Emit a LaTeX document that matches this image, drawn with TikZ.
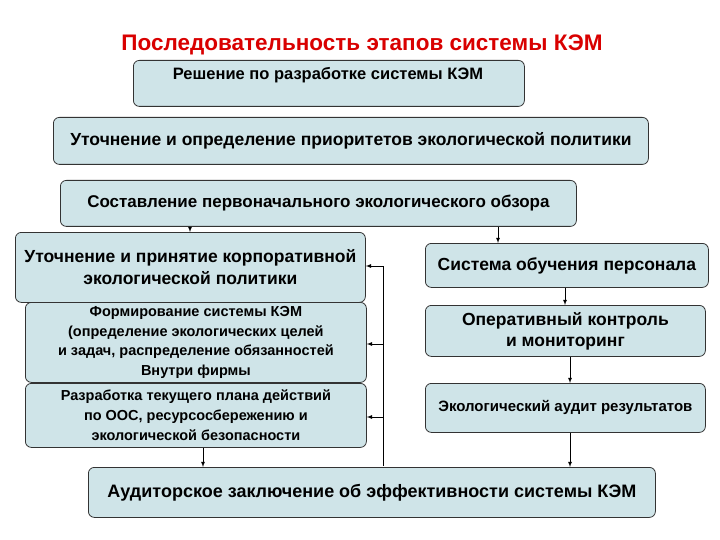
\documentclass[tikz,border=0pt]{standalone}
\usepackage{fontspec}
\setmainfont{Liberation Sans}
\definecolor{boxfill}{RGB}{207,228,232}
\begin{document}
\begin{tikzpicture}[x=1pt,y=-1pt,
 bx/.style={draw=black!80,fill=boxfill,rounded corners=6pt,line width=0.8pt,align=center,font=\bfseries\fontsize{17}{20}\selectfont,inner sep=1pt},
 arr/.style={-latex,line width=0.8pt}]
\useasboundingbox (0,0) rectangle (720,540);
\fill[white] (0,0) rectangle (720,540);
\node[text=red!85!black,font=\bfseries\fontsize{22.5}{26}\selectfont] (t) at (362,45) {Последовательность этапов системы КЭМ};
\node[bx,minimum width=391pt,minimum height=46pt,anchor=north west] (b1) at (133,60) {};
\node[font=\bfseries\fontsize{16.5}{20}\selectfont] (b1t) at (328,75) {Решение по разработке системы КЭМ};
\node[bx,minimum width=595pt,minimum height=47pt,anchor=north west,font=\bfseries\fontsize{17.5}{20}\selectfont] (b2) at (53,117) {Уточнение и определение приоритетов экологической политики};
\node[bx,minimum width=516pt,minimum height=46pt,anchor=north west] (b3) at (60,180) {Составление первоначального экологического обзора};
\node[bx,minimum width=341pt,minimum height=80pt,anchor=north west,font=\bfseries\fontsize{14.5}{19.5}\selectfont] (l2) at (25,302) {Формирование системы КЭМ\\(определение экологических  целей\\и задач, распределение обязанностей\\Внутри фирмы};
\node[bx,minimum width=341pt,minimum height=64pt,anchor=north west,font=\bfseries\fontsize{14.5}{20}\selectfont] (l3) at (25,383) {Разработка текущего плана действий\\по ООС, ресурсосбережению и\\экологической безопасности};
\node[bx,minimum width=350pt,minimum height=70pt,anchor=north west,font=\bfseries\fontsize{17.5}{22}\selectfont] (l1) at (15,232) {Уточнение и принятие корпоративной\\экологической политики};
\node[bx,minimum width=283pt,minimum height=44pt,anchor=north west,font=\bfseries\fontsize{17.5}{20}\selectfont] (r1) at (425,243) {Система обучения персонала};
\node[bx,minimum width=280pt,minimum height=51pt,anchor=north west,font=\bfseries\fontsize{17.5}{21}\selectfont] (r2) at (425,305) {Оперативный контроль\\и мониторинг};
\node[bx,minimum width=280pt,minimum height=49pt,anchor=north west,font=\bfseries\fontsize{15}{18}\selectfont] (r3) at (425,383) {Экологический аудит результатов};
\node[bx,minimum width=567pt,minimum height=50pt,anchor=north west,font=\bfseries\fontsize{18}{21}\selectfont] (bt) at (88,467) {Аудиторское заключение об эффективности системы КЭМ};
\draw[arr] (b3.south -| 190,0) -- (l1.north -| 190,0);
\draw[arr] (b3.south -| 498,0) -- (r1.north -| 498,0);
\draw[arr] (r1.south -| 565,0) -- (r2.north -| 565,0);
\draw[arr] (r2.south -| 570,0) -- (r3.north -| 570,0);
\draw[arr] (r3.south -| 570,0) -- (bt.north -| 570,0);
\draw[arr] (l3.south -| 203,0) -- (bt.north -| 203,0);
\coordinate (fb) at (383,466);
\draw[line width=0.8pt] (fb) -- (383,266);
\draw[arr] (383,266) -- (l1.east |- 0,266);
\draw[arr] (383,344) -- (l2.east |- 0,344);
\draw[arr] (383,417) -- (l3.east |- 0,417);
\end{tikzpicture}
\end{document}
